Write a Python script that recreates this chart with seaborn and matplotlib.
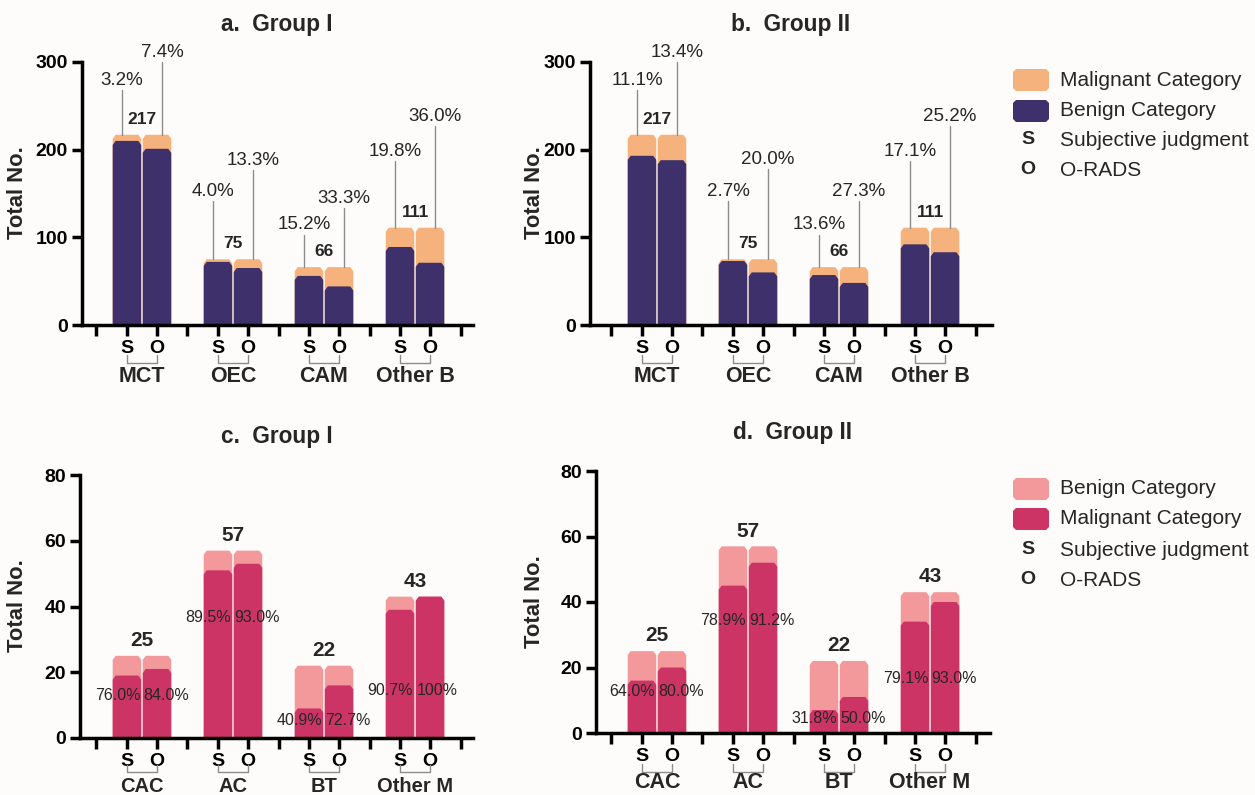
import numpy as np
import pandas as pd
import seaborn as sns
import matplotlib
matplotlib.use("Agg")
import matplotlib.pyplot as plt
from matplotlib.patches import Polygon
import matplotlib.transforms as mtransforms

# ---------------- data ----------------
methods = ["S", "O"]

benign_types = ["MCT", "OEC", "CAM", "Other B"]
benign_totals = [217, 75, 66, 111]
g1_benign_correct_S = [210, 72, 56, 89]
g1_benign_correct_O = [201, 65, 44, 71]
g2_benign_correct_S = [193, 73, 57, 92]
g2_benign_correct_O = [188, 60, 48, 83]
g1_benign_pct_S = ["3.2%", "4.0%", "15.2%", "19.8%"]
g1_benign_pct_O = ["7.4%", "13.3%", "33.3%", "36.0%"]
g2_benign_pct_S = ["11.1%", "2.7%", "13.6%", "17.1%"]
g2_benign_pct_O = ["13.4%", "20.0%", "27.3%", "25.2%"]

malig_types = ["CAC", "AC", "BT", "Other M"]
malig_totals = [25, 57, 22, 43]
g1_malig_correct_S = [19, 51, 9, 39]
g1_malig_correct_O = [21, 53, 16, 43]
g2_malig_correct_S = [16, 45, 7, 34]
g2_malig_correct_O = [20, 52, 11, 40]
g1_malig_pct_S = ["76.0%", "89.5%", "40.9%", "90.7%"]
g1_malig_pct_O = ["84.0%", "93.0%", "72.7%", "100%"]
g2_malig_pct_S = ["64.0%", "78.9%", "31.8%", "79.1%"]
g2_malig_pct_O = ["80.0%", "91.2%", "50.0%", "93.0%"]

# ---------------- layout constants ----------------
LEAD_A_S = [268, 141, 103, 187]
LEAD_A_O = [300, 177, 133, 227]
LEAD_B_S = [268, 141, 103, 187]
LEAD_B_O = [300, 178, 141, 227]
INNER_C = [13, 36.8, 5.2, 14.3]
INNER_D = [12.8, 34.5, 4.3, 16.5]

NAVY = "#3d306b"
ORANGE = "#f6b27c"
PINK = "#f3999b"
MAGENTA = "#cd3466"
BG = "#fdfcfa"
GRAY = "#8c8c8c"

W, H = 1255, 795

sns.set_theme(style="ticks")
plt.rcParams["font.family"] = ["Liberation Sans", "DejaVu Sans"]
plt.rcParams["axes.facecolor"] = BG
plt.rcParams["figure.facecolor"] = BG

fig = plt.figure(figsize=(W / 100, H / 100), dpi=100)


def add_axes_px(l, t, r, b):
    return fig.add_axes([l / W, 1 - b / H, (r - l) / W, (b - t) / H])


def fig_text(x, y, s, **kw):
    fig.text(x / W, 1 - y / H, s, **kw)


def chamfer(ax, h_px, w_px, cpx_x=3.0, cpx_y=4.0):
    x0, x1 = ax.get_xlim()
    y0, y1 = ax.get_ylim()
    dx = cpx_x * (x1 - x0) / w_px
    dy = cpx_y * (y1 - y0) / h_px
    rects = [p for p in ax.patches]
    for r in rects:
        x, y, w, h = r.get_x(), r.get_y(), r.get_width(), r.get_height()
        if h <= 0:
            r.remove()
            continue
        d = min(dy, h)
        poly = Polygon(
            [(x, y), (x, y + h - d), (x + dx, y + h), (x + w - dx, y + h),
             (x + w, y + h - d), (x + w, y)],
            closed=True, facecolor=r.get_facecolor(), edgecolor="none",
            linewidth=0, zorder=r.get_zorder())
        r.remove()
        ax.add_patch(poly)


def draw_panel(rect, xlim, cats, totals, cS, cO, light, dark, ymax, yticks,
               title, title_xy, ylab_xy, grp_px, br_px, grp_size=15.5):
    l, t, r, b = rect
    ax = add_axes_px(l, t, r, b)
    h_px, w_px = b - t, r - l
    df_tot = pd.DataFrame({"cat": cats * 2, "method": ["S"] * 4 + ["O"] * 4,
                           "n": totals + totals})
    df_in = pd.DataFrame({"cat": cats * 2, "method": ["S"] * 4 + ["O"] * 4,
                          "n": cS + cO})
    common = dict(x="cat", y="n", hue="method", order=cats, hue_order=methods,
                  width=0.66, gap=0.05, dodge=True, legend=False, ax=ax,
                  saturation=1, errorbar=None, linewidth=0)
    sns.barplot(data=df_tot, palette=[light, light], **common)
    sns.barplot(data=df_in, palette=[dark, dark], **common)
    ax.set_xlim(*xlim)
    ax.set_ylim(0, ymax)
    chamfer(ax, h_px, w_px)

    for s in ["top", "right"]:
        ax.spines[s].set_visible(False)
    for s in ["left", "bottom"]:
        ax.spines[s].set_linewidth(2.5)
        ax.spines[s].set_color("black")
    ax.set_xlabel("")
    ax.set_ylabel("")
    ax.grid(False)

    pos, labs = [], []
    for i in range(4):
        pos += [i - 0.5, i - 0.165, i + 0.165]
        labs += ["", "S", "O"]
    pos.append(3.5)
    labs.append("")
    ax.set_xticks(pos, labs)
    ax.tick_params(axis="x", length=8, width=2.5, pad=3, labelsize=14,
                   colors="black")
    for tl in ax.get_xticklabels():
        tl.set_fontweight("bold")
    ax.set_yticks(yticks)
    ax.set_yticklabels([str(v) for v in yticks])
    ax.tick_params(axis="y", length=7, width=2.5, pad=3, labelsize=14,
                   colors="black")
    for tl in ax.get_yticklabels():
        tl.set_fontweight("bold")

    trans = mtransforms.blended_transform_factory(ax.transData, ax.transAxes)
    yb1 = -br_px[0] / h_px
    yb2 = -br_px[1] / h_px
    for i, c in enumerate(cats):
        ax.plot([i - 0.165, i - 0.165, i + 0.165, i + 0.165],
                [yb1, yb2, yb2, yb1], transform=trans, color=GRAY, lw=1,
                clip_on=False)
        ax.text(i, -grp_px / h_px, c, transform=trans, ha="center",
                va="center", fontsize=grp_size, fontweight="bold",
                clip_on=False)

    fig_text(title_xy[0], title_xy[1], title, ha="center", va="center",
             fontsize=16.3, fontweight="bold")
    fig_text(ylab_xy[0], ylab_xy[1], "Total No.", ha="center", va="center",
             rotation=90, fontsize=15.8, fontweight="bold")
    return ax


def top_annotations(ax, totals, lead_S, lead_O, pct_S, pct_O):
    for i, tot in enumerate(totals):
        for x, top, txt in [(i - 0.22, lead_S[i], pct_S[i]),
                            (i + 0.22, lead_O[i], pct_O[i])]:
            ax.plot([x, x], [tot, top], color=GRAY, lw=1, clip_on=False,
                    zorder=2)
            ax.annotate(txt, (x, top), xytext=(0, 7),
                        textcoords="offset points", ha="center", va="center",
                        fontsize=13.5, annotation_clip=False)
        ax.annotate(str(tot), (i, tot), xytext=(0, 11),
                    textcoords="offset points", ha="center", va="center",
                    fontsize=12.5, fontweight="bold", annotation_clip=False)


def bottom_annotations(ax, totals, inner, pct_S, pct_O):
    for i, tot in enumerate(totals):
        ax.text(i - 0.02, inner[i], pct_S[i], ha="right", va="center",
                fontsize=11.5)
        ax.text(i + 0.015, inner[i], pct_O[i], ha="left", va="center",
                fontsize=11.5)
        ax.annotate(str(tot), (i, tot), xytext=(0, 11),
                    textcoords="offset points", ha="center", va="center",
                    fontsize=15, fontweight="bold", annotation_clip=False)


# panel a
ax_a = draw_panel((82, 62, 473, 325), (-0.659, 3.637), benign_types,
                  benign_totals, g1_benign_correct_S, g1_benign_correct_O,
                  ORANGE, NAVY, 300, [0, 100, 200, 300], "a.  Group I",
                  (277, 25), (18, 193), 52, (30, 38))
top_annotations(ax_a, benign_totals, LEAD_A_S, LEAD_A_O, g1_benign_pct_S,
                g1_benign_pct_O)
# panel b
ax_b = draw_panel((590, 62, 992, 325), (-0.736, 3.681), benign_types,
                  benign_totals, g2_benign_correct_S, g2_benign_correct_O,
                  ORANGE, NAVY, 300, [0, 100, 200, 300], "b.  Group II",
                  (791, 25), (535, 193), 52, (30, 38))
top_annotations(ax_b, benign_totals, LEAD_B_S, LEAD_B_O, g2_benign_pct_S,
                g2_benign_pct_O)
# panel c
ax_c = draw_panel((80, 475, 473, 738), (-0.681, 3.637), malig_types,
                  malig_totals, g1_malig_correct_S, g1_malig_correct_O,
                  PINK, MAGENTA, 80, [0, 20, 40, 60, 80], "c.  Group I",
                  (277, 437), (18, 606), 48, (27, 34), grp_size=14.5)
bottom_annotations(ax_c, malig_totals, INNER_C, g1_malig_pct_S,
                   g1_malig_pct_O)
# panel d
ax_d = draw_panel((596, 471, 990, 733), (-0.670, 3.659), malig_types,
                  malig_totals, g2_malig_correct_S, g2_malig_correct_O,
                  PINK, MAGENTA, 80, [0, 20, 40, 60, 80], "d.  Group II",
                  (793, 433), (535, 602), 50, (31, 39))
bottom_annotations(ax_d, malig_totals, INNER_D, g2_malig_pct_S,
                   g2_malig_pct_O)


# ---------------- legends ----------------
def legend_patch(x0, y0, x1, y1, color, c=3):
    pts = [(x0 + c, y0), (x1 - c, y0), (x1, y0 + c), (x1, y1 - c),
           (x1 - c, y1), (x0 + c, y1), (x0, y1 - c), (x0, y0 + c)]
    pts = [(px / W, 1 - py / H) for px, py in pts]
    fig.patches.append(Polygon(pts, closed=True, facecolor=color,
                               edgecolor="none", transform=fig.transFigure))


def legend_block(rows_y, colors, names):
    for (y, col, name) in zip(rows_y[:2], colors, names):
        legend_patch(1013, y - 11, 1049, y + 11, col)
        fig_text(1060, y, name, ha="left", va="center", fontsize=15)
    for y, letter, name in zip(rows_y[2:], ["S", "O"],
                               ["Subjective judgment", "O-RADS"]):
        fig_text(1028, y, letter, ha="center", va="center", fontsize=14,
                 fontweight="bold")
        fig_text(1060, y, name, ha="left", va="center", fontsize=15)


legend_block([80, 111, 140, 170], [ORANGE, NAVY],
             ["Malignant Category", "Benign Category"])
legend_block([489, 519, 550, 580], [PINK, MAGENTA],
             ["Benign Category", "Malignant Category"])

fig.savefig("out.png", dpi=100, facecolor=BG)
